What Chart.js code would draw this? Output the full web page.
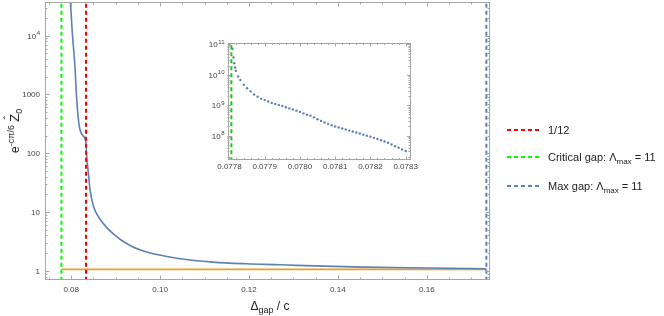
<!DOCTYPE html>
<html>
<head>
<meta charset="utf-8">
<script src="https://cdn.jsdelivr.net/npm/chart.js@4.4.0/dist/chart.umd.min.js"></script>
<style>
  body { margin: 0; background: #fff; font-family: "Liberation Sans", Arial, sans-serif; }
  #wrap { position: relative; width: 664px; height: 316px; overflow: hidden; }
  #main { position: absolute; left: 0; top: 0; }
  #inset { position: absolute; left: 190px; top: 36px; }
  .ytitle { position: absolute; left: 15px; top: 131px; transform: translate(-50%, -50%) rotate(-90deg);
            font-size: 12px; white-space: nowrap; color: #222; line-height: 14px; }
  .ytitle sup { font-size: 9px; vertical-align: 5px; line-height: 0; }
  .zhat { position: relative; display: inline-block; font-size: 13px; }
  .zhat .hat { position: absolute; left: 0; right: 0; top: -7px; text-align: center; font-size: 11px; }
  .ytitle sub { font-size: 9px; vertical-align: -3px; line-height: 0; }
  .xtitle { position: absolute; left: 270px; top: 306px; transform: translate(-50%, -50%);
            font-size: 12px; white-space: nowrap; color: #222; }
  .xtitle sub { font-size: 9px; vertical-align: -3px; line-height: 0; }
  .leg { position: absolute; left: 507px; height: 14px; font-size: 11px; color: #222;
         display: flex; align-items: center; white-space: nowrap; }
  .leg svg { margin-right: 9px; }
  .leg sub { font-size: 8px; vertical-align: -3px; line-height: 0; }
</style>
</head>
<body>
<div id="wrap">
  <canvas id="main" width="664" height="316"></canvas>
  <canvas id="inset" width="230" height="138"></canvas>
  <div class="ytitle">e<sup>-cπ/6</sup> <span class="zhat">Z<span class="hat">ˆ</span></span><sub>0</sub></div>
  <div class="xtitle">Δ<sub>gap</sub> / c</div>
  <div class="leg" style="top:123px"><svg width="32" height="4"><line x1="0" y1="2" x2="32" y2="2" stroke="#ff0000" stroke-width="2" stroke-dasharray="4 3"/></svg><span>1/12</span></div>
  <div class="leg" style="top:150px"><svg width="32" height="4"><line x1="0" y1="2" x2="32" y2="2" stroke="#00ff00" stroke-width="2" stroke-dasharray="4 3"/></svg><span>Critical gap: Λ<sub>max</sub> = 11</span></div>
  <div class="leg" style="top:179px"><svg width="32" height="4"><line x1="0" y1="2" x2="32" y2="2" stroke="#5e81b5" stroke-width="2" stroke-dasharray="4 3"/></svg><span>Max gap: Λ<sub>max</sub> = 11</span></div>
</div>
<script>
// main curve
const mainX = [0.07950, 0.07984, 0.08025, 0.08063, 0.08085, 0.08124, 0.08182, 0.08272, 0.08333,
               0.08349, 0.08385, 0.08423, 0.08497, 0.08648, 0.08947, 0.09323, 0.09699, 0.10448,
               0.1119, 0.1195, 0.1270, 0.1307, 0.1456, 0.1607, 0.1734];
const mainY = [100000, 37000, 11200, 5000, 2960, 830, 290, 196, 152,
               90, 47.6, 24.5, 12.8, 7.64, 4.26, 2.70, 2.09, 1.61,
               1.41, 1.32, 1.27, 1.24, 1.16, 1.12, 1.09];

// flat orange line
const flatX = [0.0778055, 0.1734];
const flatY = [1.06, 1.06];

// vertical markers
const oneTwelfth = 1 / 12;
const critGap = 0.0778055;
const maxGap = 0.1734;

// inset points
const insetX = [0.0778088, 0.0778115, 0.0778134, 0.0778162, 0.0778180, 0.0778245, 0.0778309, 0.0778411,
  0.07785, 0.07786, 0.07787, 0.07788, 0.07789, 0.07790, 0.07791, 0.07792, 0.07793, 0.07794,
  0.07795, 0.07796, 0.07797, 0.07798, 0.07799, 0.07800, 0.07801, 0.07802, 0.07803, 0.07804,
  0.07805, 0.07806, 0.07807, 0.07808, 0.07809, 0.07810, 0.07811, 0.07812, 0.07813, 0.07814,
  0.07815, 0.07816, 0.07817, 0.07818, 0.07819, 0.07820, 0.07821, 0.07822, 0.07823, 0.07824,
  0.07825, 0.07826, 0.07827, 0.07828, 0.07829, 0.07830];
const insetY = [7.2e10, 3.73e10, 2.43e10, 1.75e10, 1.36e10, 8.8e9, 6.8e9, 4.68e9,
  3.63e9, 2.86e9, 2.26e9, 1.90e9, 1.64e9, 1.47e9, 1.32e9, 1.19e9, 1.09e9, 1.02e9,
  9.4e8, 8.55e8, 7.82e8, 7.26e8, 6.61e8, 6.01e8, 5.35e8, 4.85e8, 4.51e8, 3.97e8,
  3.44e8, 3.03e8, 2.70e8, 2.42e8, 2.20e8, 2.00e8, 1.84e8, 1.71e8, 1.59e8, 1.45e8,
  1.35e8, 1.26e8, 1.17e8, 1.07e8, 9.9e7, 9.08e7, 8.38e7, 7.71e7, 7.0e7, 6.37e7,
  5.75e7, 5.07e7, 4.43e7, 3.94e7, 3.49e7, 3.09e7];

// tick labels ("10^4" = 10 with raised 4)
const xTickValues = [0.08, 0.10, 0.12, 0.14, 0.16];
const xTickLabels = ['0.08', '0.10', '0.12', '0.14', '0.16'];
const yTickValues = [1, 10, 100, 1000, 10000];
const yTickLabels = ['1', '10', '100', '1000', '10^4'];
const insetXTickValues = [0.0778, 0.0779, 0.0780, 0.0781, 0.0782, 0.0783];
const insetXTickLabels = ['0.0778', '0.0779', '0.0780', '0.0781', '0.0782', '0.0783'];
const insetYTickValues = [1e8, 1e9, 1e10, 1e11];
const insetYTickLabels = ['10^8', '10^9', '10^10', '10^11'];

const BLUE = '#5e81b5', ORANGE = '#e8a020', FRAME = '#a6a6a6', TEXT = '#444';
const FONT = '"Liberation Sans", Arial, sans-serif';
Chart.defaults.font.family = FONT;
Chart.defaults.color = TEXT;

function pts(xs, ys) { return xs.map((v, i) => ({x: v, y: ys[i]})); }
function vline(x, lo, hi) { return [{x: x, y: lo}, {x: x, y: hi}]; }

function linTicks(min, max, step, majors) {
  const out = [];
  for (let i = Math.ceil(min / step - 1e-6); i * step <= max + 1e-12; i++) {
    const v = +(i * step).toFixed(9);
    out.push({value: v, big: majors.some(m => Math.abs(m - v) < step / 10)});
  }
  return out;
}
function logTicks(min, max) {
  const out = [];
  for (let k = Math.floor(Math.log10(min)); k <= Math.ceil(Math.log10(max)); k++) {
    for (let m = 1; m <= 9; m++) {
      const v = m * Math.pow(10, k);
      if (v >= min && v <= max) out.push({value: v, big: m === 1});
    }
  }
  return out;
}
function labeler(values, labels) {
  return function (value) {
    const i = values.findIndex(m => Math.abs(m - value) <= Math.abs(m) * 1e-6);
    return i < 0 ? '' : labels[i];
  };
}

// frame with inward ticks on all four sides, plus y labels with raised exponents
const frameTicks = {
  id: 'frameTicks',
  afterDatasetsDraw(chart, args, opts) {
    const {ctx, chartArea: a, scales} = chart;
    const x = scales.x, y = scales.y;
    ctx.save();
    ctx.strokeStyle = FRAME;
    ctx.lineWidth = 1;
    ctx.strokeRect(Math.round(a.left) + 0.5, Math.round(a.top) + 0.5,
                   Math.round(a.right - a.left) - 1, Math.round(a.bottom - a.top) - 1);
    ctx.beginPath();
    x.ticks.forEach(t => {
      const p = Math.round(x.getPixelForValue(t.value)) + 0.5;
      const len = t.big ? opts.major : opts.minor;
      ctx.moveTo(p, a.bottom); ctx.lineTo(p, a.bottom - len);
      ctx.moveTo(p, a.top); ctx.lineTo(p, a.top + len);
    });
    y.ticks.forEach(t => {
      const p = Math.round(y.getPixelForValue(t.value)) + 0.5;
      const len = t.big ? opts.major : opts.minor;
      ctx.moveTo(a.left, p); ctx.lineTo(a.left + len, p);
      ctx.moveTo(a.right, p); ctx.lineTo(a.right - len, p);
    });
    ctx.stroke();

    // y tick labels
    ctx.fillStyle = TEXT;
    ctx.textBaseline = 'alphabetic';
    ctx.textAlign = 'left';
    opts.yValues.forEach((v, i) => {
      const p = y.getPixelForValue(v);
      const [base, exp] = opts.yLabels[i].split('^');
      const right = a.left - opts.pad;
      ctx.font = '8px ' + FONT;
      const bw = ctx.measureText(base).width;
      let ew = 0;
      if (exp) { ctx.font = '6px ' + FONT; ew = ctx.measureText(exp).width + 0.5; }
      ctx.font = '8px ' + FONT;
      ctx.fillText(base, right - ew - bw, p + 3);
      if (exp) { ctx.font = '6px ' + FONT; ctx.fillText(exp, right - ew + 0.5, p - 0.5); }
    });
    ctx.restore();
  }
};

const mainXMin = 0.07411, mainXMax = 0.17422, mainYMin = 0.738, mainYMax = 37300;

new Chart(document.getElementById('main'), {
  type: 'line',
  data: {
    datasets: [
      {data: pts(mainX, mainY), borderColor: BLUE, borderWidth: 1.6, pointRadius: 0,
       cubicInterpolationMode: 'monotone', clip: 0, order: 3},
      {data: pts(flatX, flatY), borderColor: ORANGE, borderWidth: 1.8, pointRadius: 0, clip: 0, order: 4},
      {data: vline(oneTwelfth, 0.1, 1e6), borderColor: '#ff0000', borderWidth: 2, borderDash: [4, 3],
       pointRadius: 0, clip: 0, order: 1},
      {data: vline(critGap, 0.1, 1e6), borderColor: '#00ff00', borderWidth: 2, borderDash: [4, 3],
       pointRadius: 0, clip: 0, order: 1},
      {data: vline(maxGap, 0.1, 1e6), borderColor: BLUE, borderWidth: 2, borderDash: [4, 3],
       pointRadius: 0, clip: 0, order: 1}
    ]
  },
  options: {
    responsive: false,
    animation: false,
    events: [],
    layout: {padding: {left: 0, top: 2, right: 174, bottom: 0}},
    plugins: {legend: {display: false}, tooltip: {enabled: false},
              frameTicks: {major: 4.5, minor: 2.5, pad: 5, yValues: yTickValues, yLabels: yTickLabels}},
    scales: {
      x: {
        type: 'linear', min: mainXMin, max: mainXMax,
        afterFit: s => { s.height = 36; },
        afterBuildTicks: s => { s.ticks = linTicks(mainXMin, mainXMax, 0.005, xTickValues); },
        grid: {display: false, drawTicks: false}, border: {display: false},
        ticks: {autoSkip: false, maxRotation: 0, padding: 5, font: {size: 8}, callback: labeler(xTickValues, xTickLabels)}
      },
      y: {
        type: 'logarithmic', min: mainYMin, max: mainYMax,
        afterFit: s => { s.width = 45; },
        afterBuildTicks: s => { s.ticks = logTicks(mainYMin, mainYMax); },
        grid: {display: false, drawTicks: false}, border: {display: false},
        ticks: {display: false}
      }
    }
  },
  plugins: [frameTicks]
});

const inXMin = 0.0777945, inXMax = 0.0783138, inYMin = 1.56e7, inYMax = 1.12e11;

new Chart(document.getElementById('inset'), {
  type: 'line',
  data: {
    datasets: [
      {data: pts(insetX, insetY), showLine: false, pointRadius: 1.2, pointBorderWidth: 0,
       pointBackgroundColor: BLUE, borderColor: BLUE, clip: 0, order: 2},
      {data: vline(critGap, 1e6, 1e12), borderColor: '#1fc21f', borderWidth: 2, borderDash: [4, 3],
       pointRadius: 0, clip: 0, order: 1}
    ]
  },
  options: {
    responsive: false,
    animation: false,
    events: [],
    layout: {padding: {left: 0, top: 7, right: 5, bottom: 0}},
    plugins: {legend: {display: false}, tooltip: {enabled: false},
              frameTicks: {major: 3.5, minor: 2, pad: 3, yValues: insetYTickValues, yLabels: insetYTickLabels}},
    scales: {
      x: {
        type: 'linear', min: inXMin, max: inXMax,
        afterFit: s => { s.height = 14; },
        afterBuildTicks: s => { s.ticks = linTicks(inXMin, inXMax, 0.00002, insetXTickValues); },
        grid: {display: false, drawTicks: false}, border: {display: false},
        ticks: {autoSkip: false, maxRotation: 0, padding: 2, font: {size: 8}, callback: labeler(insetXTickValues, insetXTickLabels)}
      },
      y: {
        type: 'logarithmic', min: inYMin, max: inYMax,
        afterFit: s => { s.width = 37.5; },
        afterBuildTicks: s => { s.ticks = logTicks(inYMin, inYMax); },
        grid: {display: false, drawTicks: false}, border: {display: false},
        ticks: {display: false}
      }
    }
  },
  plugins: [frameTicks]
});
</script>
</body>
</html>
